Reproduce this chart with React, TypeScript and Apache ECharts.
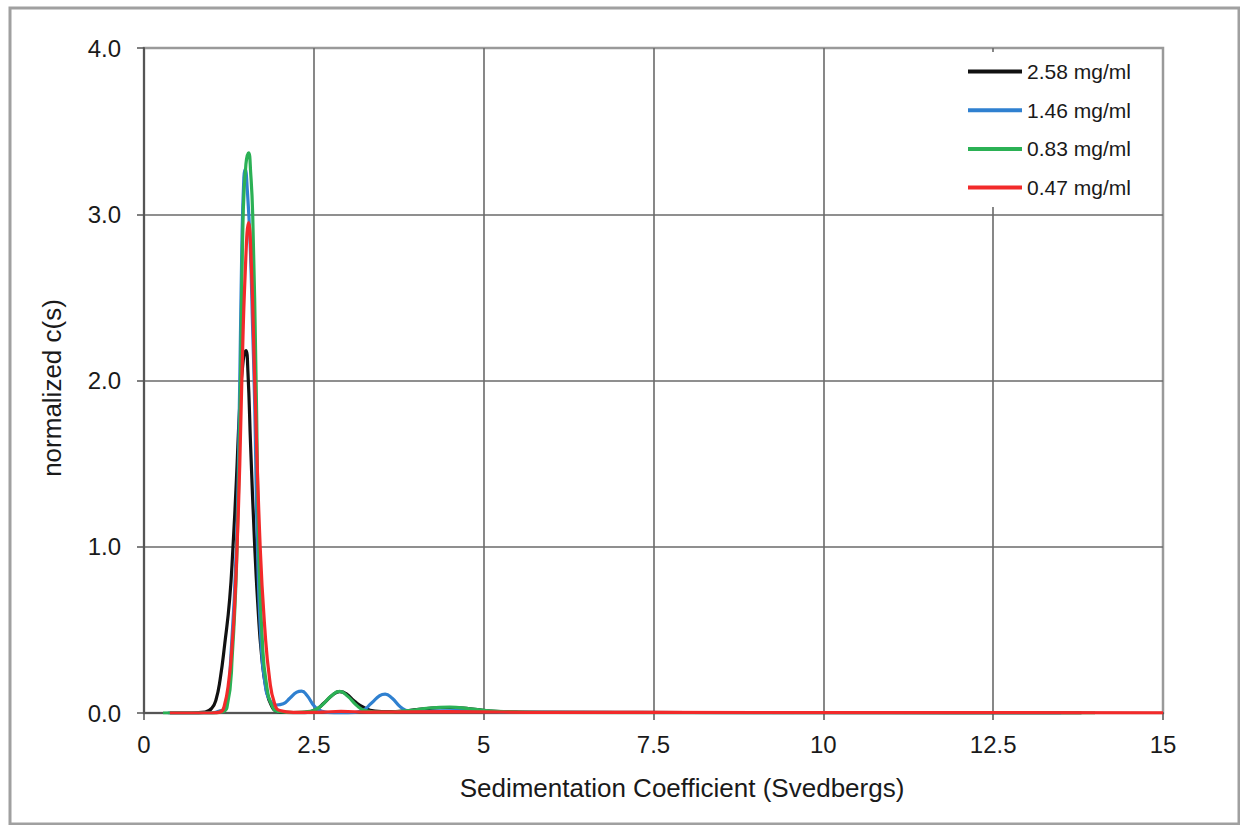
import React, { useEffect, useRef } from "react";
import * as echarts from "echarts";

// Sedimentation coefficient (S) vs normalized c(s)
const legendNames = ["2.58 mg/ml", "1.46 mg/ml", "0.83 mg/ml", "0.47 mg/ml"];
const seriesColors = ["#111111", "#2f80d0", "#2bb155", "#f22a2a"];

const black258: number[][] = [
  [0.38, 0], [0.7, 0], [0.9, 0.005], [1.0, 0.03], [1.06, 0.08], [1.12, 0.2], [1.19, 0.42],
  [1.26, 0.68], [1.31, 1.0], [1.36, 1.4], [1.41, 1.85], [1.46, 2.12], [1.5, 2.18],
  [1.53, 2.05], [1.57, 1.6], [1.63, 1.0], [1.68, 0.62], [1.73, 0.35], [1.8, 0.14],
  [1.88, 0.04], [1.96, 0.01], [2.1, 0.003], [2.3, 0.002], [2.5, 0.015], [2.65, 0.06],
  [2.78, 0.11], [2.88, 0.128], [2.98, 0.115], [3.1, 0.07], [3.25, 0.03], [3.4, 0.012],
  [3.6, 0.008], [3.9, 0.015], [4.2, 0.028], [4.5, 0.033], [4.8, 0.025], [5.1, 0.012],
  [5.5, 0.006], [6.5, 0.004], [8, 0.003], [10, 0.002], [12, 0.001], [13.8, 0],
];

const blue146: number[][] = [
  [0.35, 0], [1.0, 0], [1.1, 0.01], [1.2, 0.03], [1.28, 0.35], [1.36, 1.0], [1.41, 2.0],
  [1.44, 2.8], [1.47, 3.22], [1.49, 3.27], [1.52, 3.15], [1.56, 2.85], [1.6, 2.3],
  [1.63, 1.85], [1.67, 1.0], [1.72, 0.45], [1.78, 0.18], [1.86, 0.07], [1.95, 0.048],
  [2.05, 0.055], [2.15, 0.09], [2.25, 0.125], [2.32, 0.132], [2.4, 0.105], [2.51, 0.04],
  [2.62, 0.01], [2.8, 0.0], [3.0, 0.0], [3.2, 0.012], [3.35, 0.06], [3.47, 0.105],
  [3.55, 0.114], [3.65, 0.09], [3.78, 0.035], [3.9, 0.012], [4.2, 0.01], [4.6, 0.015],
  [5.0, 0.01], [5.5, 0.005], [7, 0.003], [10, 0.002], [13.5, 0],
];

const green083: number[][] = [
  [0.28, 0], [1.0, 0], [1.12, 0.005], [1.22, 0.03], [1.3, 0.35], [1.37, 1.0], [1.42, 2.0],
  [1.46, 3.0], [1.5, 3.3], [1.54, 3.37], [1.57, 3.25], [1.6, 3.0], [1.65, 2.0], [1.69, 1.0],
  [1.74, 0.45], [1.8, 0.18], [1.9, 0.03], [2.0, 0.008], [2.2, 0.003], [2.45, 0.01],
  [2.6, 0.04], [2.75, 0.1], [2.88, 0.13], [3.0, 0.1], [3.12, 0.05], [3.25, 0.015],
  [3.5, 0.005], [3.9, 0.015], [4.2, 0.03], [4.5, 0.035], [4.8, 0.025], [5.2, 0.01],
  [6, 0.004], [8, 0.002], [12, 0.001], [14, 0],
];

const red047: number[][] = [
  [0.38, 0], [1.0, 0], [1.12, 0.005], [1.18, 0.04], [1.25, 0.2], [1.3, 0.42], [1.34, 0.7],
  [1.37, 1.0], [1.41, 1.5], [1.44, 2.0], [1.49, 2.65], [1.54, 2.95], [1.58, 2.7],
  [1.63, 2.0], [1.71, 1.0], [1.78, 0.5], [1.85, 0.2], [1.92, 0.06], [2.0, 0.015],
  [2.2, 0.004], [2.6, 0.005], [2.9, 0.01], [3.3, 0.005], [4.5, 0.008], [6, 0.004],
  [9, 0.003], [12, 0.002], [15, 0.001],
];

const seriesData = [black258, blue146, green083, red047];

const xTicks = { min: 0, max: 15, interval: 2.5 };
const yTicks = { min: 0, max: 4, interval: 1 };

const FONT = "'Liberation Sans', Arial, sans-serif";

export default function App() {
  const ref = useRef<HTMLDivElement>(null);

  useEffect(() => {
    if (!ref.current) return;
    const chart = echarts.init(ref.current, null, { renderer: "svg" });
    const option: any = {
      animation: false,
      backgroundColor: "#ffffff",
      grid: {
        left: 144,
        top: 48,
        right: 77,
        bottom: 112,
        show: true,
        borderColor: "#9a9a9a",
        borderWidth: 2.5,
        backgroundColor: "transparent",
      },
      legend: {
        orient: "vertical",
        left: 950,
        top: 52,
        padding: [9, 16, 9, 18],
        backgroundColor: "#ffffff",
        icon: "rect",
        itemWidth: 54,
        itemHeight: 4,
        itemGap: 17.7,
        data: legendNames,
        textStyle: {
          fontFamily: FONT,
          fontSize: 21,
          color: "#1a1a1a",
          lineHeight: 20,
        },
      },
      xAxis: {
        type: "value",
        min: xTicks.min,
        max: xTicks.max,
        interval: xTicks.interval,
        axisLine: { show: true, lineStyle: { color: "#555", width: 2 } },
        axisTick: { show: true, inside: false, length: 7, lineStyle: { color: "#555", width: 1.5 } },
        axisLabel: {
          margin: 19,
          fontFamily: FONT,
          fontSize: 24,
          color: "#1a1a1a",
          formatter: (v: number) => String(v),
        },
        splitLine: { show: true, showMaxLine: false, lineStyle: { color: "#6a6a6a", width: 1.6 } },
      },
      yAxis: {
        type: "value",
        min: yTicks.min,
        max: yTicks.max,
        interval: yTicks.interval,
        axisLine: { show: true, lineStyle: { color: "#555", width: 2 } },
        axisTick: { show: true, inside: false, length: 7, lineStyle: { color: "#555", width: 1.5 } },
        axisLabel: {
          margin: 23,
          fontFamily: FONT,
          fontSize: 24,
          color: "#1a1a1a",
          formatter: (v: number) => v.toFixed(1),
        },
        splitLine: { show: true, showMaxLine: false, lineStyle: { color: "#6a6a6a", width: 1.6 } },
      },
      series: seriesData.map((d, i) => ({
        name: legendNames[i],
        type: "line",
        data: d,
        showSymbol: false,
        symbol: "none",
        smooth: 0.5,
        lineStyle: { color: seriesColors[i], width: 3.2 },
        itemStyle: { color: seriesColors[i] },
        z: 3 + i,
      })),
      graphic: [
        {
          type: "rect",
          z: -10,
          silent: true,
          shape: { x: 10, y: 8, width: 1229, height: 816 },
          style: { fill: "none", stroke: "#a0a0a0", lineWidth: 3 },
        },
        {
          type: "text",
          x: 682,
          y: 788,
          style: {
            text: "Sedimentation Coefficient (Svedbergs)",
            fontFamily: FONT,
            fontSize: 26,
            fill: "#1a1a1a",
            textAlign: "center",
            textVerticalAlign: "middle",
          },
        },
        {
          type: "text",
          x: 52,
          y: 388,
          rotation: Math.PI / 2,
          style: {
            text: "normalized c(s)",
            fontFamily: FONT,
            fontSize: 26,
            fill: "#1a1a1a",
            textAlign: "center",
            textVerticalAlign: "middle",
          },
        },
      ],
    };
    chart.setOption(option);
    return () => chart.dispose();
  }, []);

  return (
    <div
      ref={ref}
      style={{ position: "fixed", left: 0, top: 0, width: 1240, height: 825 }}
    />
  );
}
